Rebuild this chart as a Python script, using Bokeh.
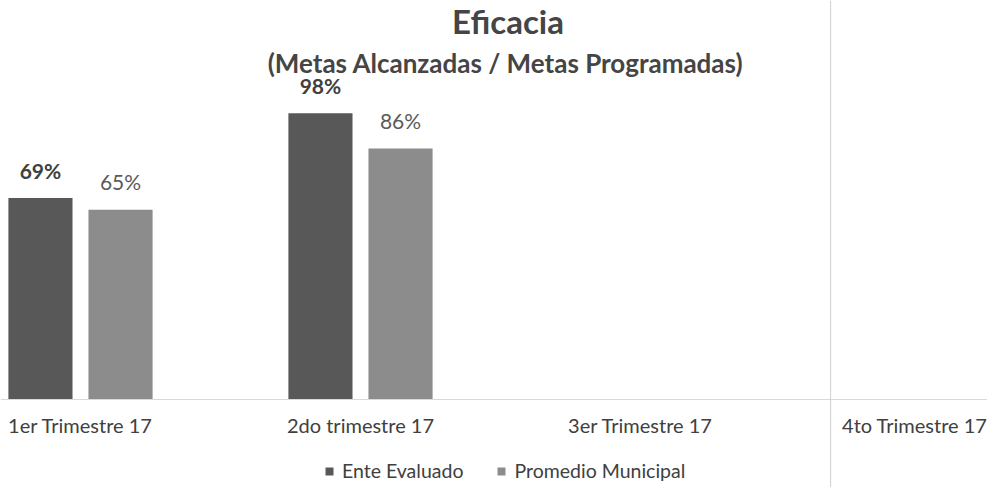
from bokeh.plotting import figure
from bokeh.models import (ColumnDataSource, Label, Legend, LegendItem,
                          FixedTicker, Span, Range1d)
from bokeh.core.properties import value
from bokeh.embed import file_html
from bokeh.resources import INLINE

# ---- data ----
categories = ["1er Trimestre 17", "2do trimestre 17", "3er Trimestre 17", "4to Trimestre 17"]
series_names = ["Ente Evaluado", "Promedio Municipal"]
ente = [69, 98, None, None]
promedio = [65, 86, None, None]

title_text = "Eficacia"
subtitle_text = "(Metas Alcanzadas / Metas Programadas)"

# ---- style ----
FONT = "Lato"
DARK = "#585858"
LIGHT = "#8c8c8c"
TEXT = "#404040"
OFF = 0.143
BAR_W = 0.229
PX_PER_PCT = 2.92


def make_source(vals, offset):
    xs, tops, labels = [], [], []
    for i, v in enumerate(vals):
        if v is None:
            continue
        xs.append(i + offset)
        tops.append(v)
        labels.append(f"{v}%")
    return ColumnDataSource(dict(x=xs, top=tops, label=labels))


src_e = make_source(ente, -OFF)
src_p = make_source(promedio, OFF)

p = figure(width=987, height=487, output_backend="svg", toolbar_location=None,
           x_range=Range1d(-0.2857, 3.2393),
           y_range=Range1d(-(487 - 399) / PX_PER_PCT, 399 / PX_PER_PCT),
           y_axis_location=None,
           min_border_left=0, min_border_right=0, min_border_top=0,
           min_border_bottom=0)
p.outline_line_color = None
p.grid.visible = False
p.background_fill_color = "white"

r1 = p.vbar(x="x", top="top", width=BAR_W, source=src_e, fill_color=DARK, line_color=None)
r2 = p.vbar(x="x", top="top", width=BAR_W, source=src_p, fill_color=LIGHT, line_color=None)

p.text(x="x", y="top", text="label", source=src_e, text_align="center",
       text_baseline="alphabetic", y_offset=-28, text_font=value(FONT),
       text_font_size="21px", text_color=TEXT, text_font_style="bold")
p.text(x="x", y="top", text="label", source=src_p, text_align="center",
       text_baseline="alphabetic", y_offset=-28, text_font=value(FONT),
       text_font_size="21px", text_color="#5a5a5a")

# x axis with category names, drawn at y = 0
ax = p.xaxis[0]
ax.fixed_location = 0
ax.ticker = FixedTicker(ticks=list(range(len(categories))))
ax.major_label_overrides = {i: c for i, c in enumerate(categories)}
ax.major_tick_line_color = None
ax.minor_tick_line_color = None
ax.major_tick_in = 0
ax.major_tick_out = 0
ax.minor_tick_in = 0
ax.minor_tick_out = 0
ax.axis_line_color = "#d9d9d9"
ax.major_label_text_font = FONT
ax.major_label_text_font_size = "20px"
ax.major_label_text_color = TEXT
ax.major_label_standoff = 13

# scan-border line
p.add_layout(Span(location=2.679, dimension="height", line_color="#cfcfcf", line_width=1))

# titles
p.add_layout(Label(x=1.527, y=129.5, text=title_text, text_align="center",
                   text_baseline="alphabetic", text_font=FONT, text_font_style="bold",
                   text_font_size="33px", text_color="#454545"))
p.add_layout(Label(x=1.518, y=115.2, text=subtitle_text, text_align="center",
                   text_baseline="alphabetic", text_font=FONT, text_font_style="bold",
                   text_font_size="26px", text_color="#454545"))

legend = Legend(items=[LegendItem(label=series_names[0], renderers=[r1]),
                       LegendItem(label=series_names[1], renderers=[r2])],
                orientation="horizontal", location=(324, 5),
                border_line_color=None, background_fill_alpha=0,
                glyph_width=10, glyph_height=10, label_standoff=8, spacing=33,
                padding=0, margin=0, label_text_font=FONT,
                label_text_font_size="19.5px", label_text_color=TEXT)
p.add_layout(legend, "center")

open("out.html", "w").write(file_html(p, INLINE))
